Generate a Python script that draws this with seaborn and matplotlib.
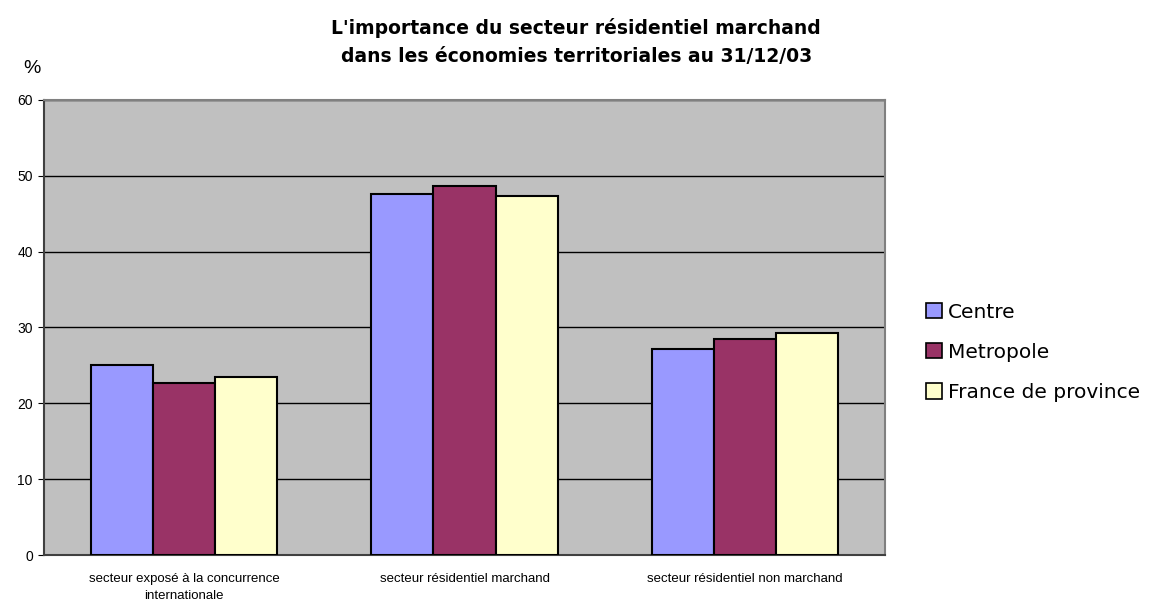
import pandas as pd
import matplotlib.pyplot as plt
import seaborn as sns
from matplotlib.patches import Patch

# Data
categories = ["secteur exposé à la concurrence\ninternationale",
              "secteur résidentiel marchand",
              "secteur résidentiel non marchand"]
series = ["Centre", "Metropole", "France de province"]
centre = [25.1, 47.6, 27.2]
metropole = [22.7, 48.6, 28.5]
province = [23.5, 47.3, 29.3]
colors = ["#9999FF", "#993366", "#FFFFCC"]

df = pd.DataFrame({
    "secteur": categories * 3,
    "zone": [s for s in series for _ in categories],
    "valeur": centre + metropole + province,
})

sns.set_style("white")
plt.rcParams["font.family"] = ["Liberation Sans", "DejaVu Sans"]
plt.rcParams["text.color"] = "black"
plt.rcParams["xtick.color"] = "black"
plt.rcParams["ytick.color"] = "black"

fig = plt.figure(figsize=(11.57, 6.02), dpi=100)
ax = fig.add_axes([0.038, 0.078, 0.727, 0.756])
ax.set_facecolor("#C0C0C0")

sns.barplot(data=df, x="secteur", y="valeur", hue="zone", order=categories,
            hue_order=series, palette=colors, width=0.665, saturation=1,
            edgecolor="black", linewidth=1.5, errorbar=None, ax=ax, zorder=3)

ax.set_ylim(0, 60)
ax.set_yticks(range(0, 61, 10))
ax.set_xlim(-0.5, 2.5)
ax.yaxis.grid(True, color="black", linewidth=1, zorder=0)
ax.set_axisbelow(True)
ax.tick_params(axis="y", labelsize=10, length=4, direction="out", colors="black", left=True, pad=4)
ax.tick_params(axis="x", labelsize=9.5, length=0, pad=13, colors="black")
for lbl in ax.get_xticklabels():
    lbl.set_linespacing(1.6)
ax.set_xlabel("")
ax.set_ylabel("")
for side in ["left", "top", "right", "bottom"]:
    ax.spines[side].set_color("#808080")
    ax.spines[side].set_linewidth(1.5)
ax.spines["left"].set_color("#404040")
ax.spines["bottom"].set_color("#404040")

ax.legend_.remove()
handles = [Patch(facecolor=c, edgecolor="black", linewidth=1.2) for c in colors]
fig.legend(handles, series, loc="center left", bbox_to_anchor=(0.785, 0.415),
           frameon=False, prop={"family": "DejaVu Sans", "size": 14.5},
           handlelength=0.8, handleheight=0.8, handletextpad=0.25, labelspacing=1.05)

fig.text(0.498, 0.931, "L'importance du secteur résidentiel marchand\ndans les économies territoriales au 31/12/03",
         ha="center", va="center", fontsize=13.5, fontweight="bold", linespacing=1.6,
         family="DejaVu Sans")
fig.text(0.028, 0.887, "%", ha="center", va="center", fontsize=14)

fig.savefig("out.png", dpi=100)
